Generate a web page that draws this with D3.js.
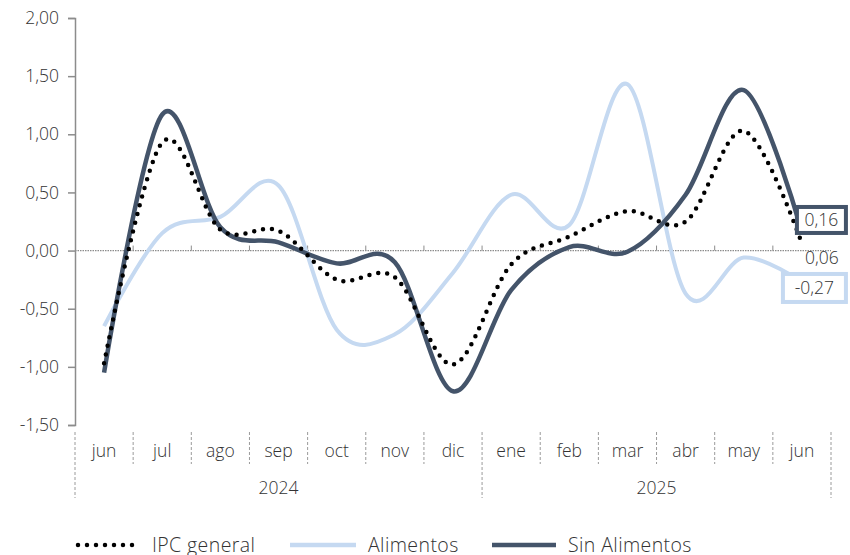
<!DOCTYPE html>
<html>
<head>
<meta charset="utf-8">
<script src="https://cdn.jsdelivr.net/npm/d3@7"></script>
<style>
  body { margin: 0; background: #fff; overflow: hidden; }
  svg { display: block; }
  text { font-family: "Open Sans", Lato, sans-serif; font-weight: 300; fill: #333; }
</style>
</head>
<body>
<div id="main"></div>
<script>
const months = ["jun", "jul", "ago", "sep", "oct", "nov", "dic", "ene", "feb", "mar", "abr", "may", "jun"];
const years = [{ label: "2024", from: 0, to: 7 }, { label: "2025", from: 7, to: 13 }];

const ipcGeneral = [-0.97, 0.93, 0.18, 0.17, -0.25, -0.23, -0.98, -0.12, 0.12, 0.34, 0.25, 1.03, 0.06];
const alimentos = [-0.65, 0.15, 0.29, 0.56, -0.68, -0.72, -0.19, 0.48, 0.22, 1.43, -0.37, -0.06, -0.27];
const sinAlimentos = [-1.05, 1.17, 0.20, 0.07, -0.11, -0.10, -1.21, -0.34, 0.03, -0.01, 0.48, 1.38, 0.16];

const yTicks = [2, 1.5, 1, 0.5, 0, -0.5, -1, -1.5];

const width = 850;
const height = 555;
const margin = { top: 18, right: 19, bottom: 130, left: 75 };

const innerWidth = width - margin.left - margin.right;
const innerHeight = height - margin.top - margin.bottom;

const dark = "#44546a";
const light = "#c5d9f1";
const fmt = v => d3.format(".2f")(v).replace("−", "-").replace(".", ",");

const svg = d3.select("#main").append("svg")
  .attr("width", width)
  .attr("height", height);

const g = svg.append("g").attr("transform", `translate(${margin.left},${margin.top})`);

const x = d3.scaleBand().domain(d3.range(months.length)).range([0, innerWidth]);
const y = d3.scaleLinear().domain([-1.5, 2]).range([innerHeight, 0]);

// y axis
const yAxis = g.append("g")
  .call(d3.axisLeft(y).tickValues(yTicks).tickSize(7).tickFormat(fmt))
  .attr("font-size", null)
  .attr("font-family", null);
yAxis.select(".domain").attr("stroke", "#8c8c8c").attr("stroke-width", 1.5);
yAxis.selectAll(".tick line").attr("stroke", "#8c8c8c").attr("stroke-width", 1.5);
yAxis.selectAll(".tick text").attr("x", -16).style("font-size", "17.5px").attr("fill", "#333");

// zero line with small tick marks
g.append("line")
  .attr("x1", 0).attr("x2", innerWidth)
  .attr("y1", y(0)).attr("y2", y(0))
  .attr("stroke", "#8c8c8c").attr("stroke-width", 1.2)
  .attr("stroke-dasharray", "1.5 1");
g.selectAll(".zt")
  .data(d3.range(1, months.length))
  .enter().append("line")
  .attr("x1", d => x(d)).attr("x2", d => x(d))
  .attr("y1", y(0) - 5).attr("y2", y(0))
  .attr("stroke", "#8c8c8c").attr("stroke-width", 1);

// category axis
const axisTop = innerHeight + 7;
g.selectAll(".sep")
  .data(d3.range(0, months.length + 1))
  .enter().append("line")
  .attr("x1", d => d === months.length ? innerWidth : x(d))
  .attr("x2", d => d === months.length ? innerWidth : x(d))
  .attr("y1", axisTop)
  .attr("y2", d => (d === 0 || d === 7 || d === months.length) ? axisTop + 66 : axisTop + 32)
  .attr("stroke", "#9a9a9a").attr("stroke-width", 1)
  .attr("stroke-dasharray", "3 2");

g.selectAll(".mlab")
  .data(months)
  .enter().append("text")
  .attr("x", (d, i) => x(i) + x.bandwidth() / 2)
  .attr("y", innerHeight + 32)
  .attr("text-anchor", "middle")
  .style("font-size", "17.5px")
  .text(d => d);

g.selectAll(".ylab")
  .data(years)
  .enter().append("text")
  .attr("x", d => (x(d.from) + (d.to === months.length ? innerWidth : x(d.to))) / 2)
  .attr("y", innerHeight + 69)
  .attr("text-anchor", "middle")
  .style("font-size", "17.5px")
  .text(d => d.label);

// lines
const line = d3.line()
  .x((d, i) => x(i) + x.bandwidth() / 2)
  .y(d => y(d))
  .curve(d3.curveCatmullRom.alpha(0));

g.append("path").datum(alimentos)
  .attr("d", line).attr("fill", "none")
  .attr("stroke", light).attr("stroke-width", 4);

g.append("path").datum(sinAlimentos)
  .attr("d", line).attr("fill", "none")
  .attr("stroke", dark).attr("stroke-width", 4.5);

g.append("path").datum(ipcGeneral)
  .attr("d", line).attr("fill", "none")
  .attr("stroke", "#000").attr("stroke-width", 4.5)
  .attr("stroke-linecap", "round")
  .attr("stroke-dasharray", "0 9");

// end labels
const last = months.length - 1;
const xl = x(last) + x.bandwidth() / 2;

function boxLabel(val, color, bx, by, bw, bh) {
  const lg = g.append("g");
  lg.append("rect")
    .attr("x", bx).attr("y", by).attr("width", bw).attr("height", bh)
    .attr("fill", "#fff").attr("stroke", color).attr("stroke-width", 4);
  lg.append("text")
    .attr("x", bx + bw / 2).attr("y", by + bh / 2 + 6.5)
    .attr("text-anchor", "middle")
    .style("font-size", "17.5px")
    .text(fmt(val));
}

boxLabel(sinAlimentos[last], dark, xl - 5, y(sinAlimentos[last]) - 25, 49, 26);
g.append("text")
  .attr("x", xl + 20).attr("y", y(0) + 13)
  .attr("text-anchor", "middle")
  .style("font-size", "17.5px")
  .text(fmt(ipcGeneral[last]));
boxLabel(alimentos[last], light, xl - 19, y(alimentos[last]) - 8, 63, 28);

// legend
const legend = svg.append("g").attr("transform", `translate(0, 545)`);
const items = [
  { label: "IPC general", x: 78, w: 62, stroke: "#000", sw: 4.5, dash: "0 9", cap: "round" },
  { label: "Alimentos", x: 290, w: 66, stroke: light, sw: 4.5, dash: null, cap: "butt" },
  { label: "Sin Alimentos", x: 492, w: 64, stroke: dark, sw: 4.5, dash: null, cap: "butt" }
];
items.forEach(it => {
  legend.append("line")
    .attr("x1", it.x).attr("x2", it.x + it.w)
    .attr("y1", 0).attr("y2", 0)
    .attr("stroke", it.stroke).attr("stroke-width", it.sw)
    .attr("stroke-linecap", it.cap)
    .attr("stroke-dasharray", it.dash);
  legend.append("text")
    .attr("x", it.x + it.w + 12).attr("y", 7)
    .style("font-size", "19.5px")
    .style("letter-spacing", "0.4px")
    .text(it.label);
});
</script>
</body>
</html>
